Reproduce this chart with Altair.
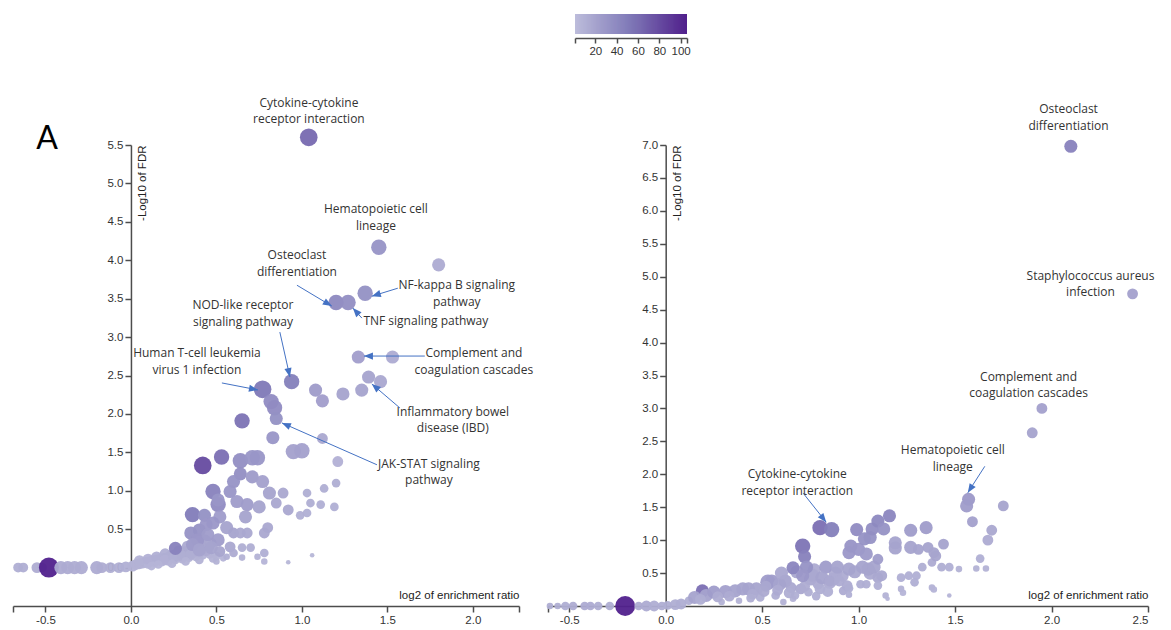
import math

import altair as alt
import pandas as pd

# ---------------------------------------------------------------------------
# Left panel: KEGG pathways, log2 enrichment ratio vs -log10 FDR.
# SET = gene-set size (colour), HITS = overlapping genes (circle area)
# ---------------------------------------------------------------------------
LEFT_X = [
    # pathways with no enrichment
    -0.66, -0.63, -0.55, -0.52, -0.48, -0.41, -0.37, -0.33, -0.29, -0.20, -0.17, -0.12, -0.07, -0.03,
    # low-significance band
    0.01, 0.03, 0.05, 0.07, 0.09, 0.11, 0.13, 0.15, 0.17, 0.19, 0.21, 0.23, 0.25, 0.27, 0.29, 0.31,
    0.33, 0.35, 0.37, 0.40, 0.42, 0.45,
    0.10, 0.14, 0.18, 0.22, 0.26, 0.30, 0.34, 0.38, 0.42, 0.46, 0.50, 0.54,
    0.20, 0.28, 0.33, 0.38, 0.43, 0.47,
    0.05, 0.10, 0.15, 0.20, 0.25, 0.30, 0.35, 0.40, 0.44, 0.12, 0.16, 0.24, 0.32, 0.40, 0.48,
    # enriched pathways
    1.04, 1.45, 1.80, 1.37, 1.20, 1.27, 1.33, 1.53, 1.39, 1.46, 1.35, 1.24, 1.08, 1.12, 0.94, 0.77,
    0.82, 0.84, 0.85, 0.65, 0.83, 1.12, 0.95, 1.00, 1.21, 0.42, 0.53, 0.64, 0.71, 0.74,
    0.64, 0.60, 0.71, 0.77, 0.81, 0.89, 0.48, 0.58, 1.03, 1.13, 1.20, 0.51, 0.68, 0.75, 0.85, 0.92,
    1.05, 1.11, 1.19, 0.36, 0.43, 0.52, 0.67, 0.99, 1.03, 0.51, 0.62,
    0.80, 0.78, 0.40, 0.44, 0.48, 0.35, 0.39, 0.45, 0.51, 0.56, 0.60, 0.64, 0.68, 0.36, 0.40, 0.47,
    0.52, 0.58, 0.60, 0.65, 0.70, 0.78, 0.26, 0.65, 0.74, 0.78, 0.92, 1.06, 0.56, 0.50,
]
LEFT_Y = [
    0, 0, 0, 0, 0, 0, 0, 0, 0, 0, 0, 0, 0, 0.01,
    0.02, 0.04, 0.05, 0.06, 0.07, 0.08, 0.09, 0.10, 0.11, 0.12, 0.13, 0.15, 0.16, 0.17, 0.18, 0.19,
    0.20, 0.22, 0.24, 0.25, 0.27, 0.28,
    0.04, 0.06, 0.07, 0.08, 0.10, 0.11, 0.13, 0.14, 0.16, 0.17, 0.15, 0.12,
    0.18, 0.22, 0.28, 0.33, 0.35, 0.32,
    0.09, 0.11, 0.14, 0.10, 0.13, 0.15, 0.17, 0.20, 0.22, 0.02, 0.04, 0.05, 0.08, 0.10, 0.12,
    5.60, 4.17, 3.94, 3.57, 3.45, 3.45, 2.74, 2.74, 2.48, 2.42, 2.31, 2.26, 2.31, 2.17, 2.42, 2.32,
    2.16, 2.08, 1.94, 1.91, 1.69, 1.68, 1.51, 1.52, 1.38, 1.33, 1.44, 1.39, 1.43, 1.43,
    1.22, 1.12, 1.18, 1.12, 0.97, 0.97, 0.99, 0.99, 0.97, 1.03, 1.10, 0.82, 0.82, 0.79, 0.84, 0.75,
    0.84, 0.82, 0.79, 0.69, 0.68, 0.66, 0.66, 0.68, 0.71, 0.88, 0.86,
    0.52, 0.45, 0.49, 0.56, 0.58, 0.45, 0.36, 0.43, 0.36, 0.52, 0.45, 0.45, 0.45, 0.30, 0.23, 0.26,
    0.21, 0.27, 0.19, 0.26, 0.26, 0.19, 0.25, 0.13, 0.14, 0.08, 0.07, 0.16, 0.14, 0.08,
]
LEFT_SET = [
    12, 12, 13, 12, 105, 14, 14, 13, 13, 14, 13, 12, 11, 11,
    9, 9, 9, 9, 9, 10, 10, 10, 10, 11, 11, 11, 12, 12, 12, 13,
    13, 14, 14, 15, 15, 16,
    7, 7, 7, 7, 8, 8, 8, 8, 8, 9, 8, 7,
    12, 13, 15, 18, 18, 16,
    9, 10, 11, 10, 11, 12, 12, 13, 14, 7, 7, 8, 8, 9, 9,
    62, 32, 14, 34, 40, 36, 24, 14, 20, 16, 20, 20, 26, 24, 48, 52,
    38, 38, 34, 56, 30, 16, 22, 22, 10, 80, 58, 36, 30, 30,
    36, 32, 26, 22, 20, 16, 45, 30, 12, 12, 12, 38, 25, 20, 16, 16,
    12, 11, 11, 50, 34, 25, 20, 11, 11, 30, 25,
    16, 16, 33, 29, 29, 33, 29, 25, 25, 20, 20, 16, 16, 25, 20, 20,
    19, 16, 14, 12, 12, 11, 45, 9, 9, 7, 6, 6, 11, 9,
]
LEFT_HITS = [
    9, 9, 11, 9, 37, 16, 16, 16, 16, 16, 11, 11, 11, 11,
    11, 11, 11, 11, 11, 11, 11, 11, 11, 11, 11, 11, 11, 11, 11, 16,
    16, 16, 16, 16, 16, 16,
    7, 7, 7, 7, 7, 7, 7, 7, 7, 7, 7, 4,
    11, 11, 11, 16, 16, 11,
    11, 11, 11, 11, 11, 11, 11, 11, 11, 7, 7, 7, 7, 7, 7,
    29, 22, 16, 22, 22, 22, 16, 16, 16, 16, 16, 16, 16, 16, 22, 29,
    22, 22, 16, 22, 16, 11, 22, 22, 11, 29, 22, 22, 22, 22,
    16, 16, 16, 16, 16, 11, 22, 16, 7, 7, 7, 22, 16, 16, 11, 11,
    7, 7, 7, 22, 16, 16, 16, 7, 7, 16, 16,
    11, 11, 16, 16, 16, 16, 16, 16, 16, 16, 11, 11, 11, 16, 16, 16,
    11, 11, 7, 7, 7, 7, 16, 4, 4, 4, 2, 2, 4, 4,
]

LEFT_LABELS = [
    "Cytokine-cytokine\nreceptor interaction",
    "Hematopoietic cell\nlineage",
    "Osteoclast\ndifferentiation",
    "NF-kappa B signaling\npathway",
    "TNF signaling pathway",
    "NOD-like receptor\nsignaling pathway",
    "Complement and\ncoagulation cascades",
    "Human T-cell leukemia\nvirus 1 infection",
    "Inflammatory bowel\ndisease (IBD)",
    "JAK-STAT signaling\npathway",
]
LEFT_LABEL_X = [1.041, 1.433, 0.971, 1.906, 1.725, 0.655, 2.006, 0.386, 1.883, 1.743]
LEFT_LABEL_Y = [6.117, 4.727, 4.130, 3.740, 3.273, 3.481, 2.857, 2.857, 2.091, 1.416]

# arrows: tail (X1, Y1) -> head (X2, Y2)
LEFT_ARROW_X1 = [0.971, 1.561, 1.351, 1.719, 1.573, 1.439, 0.871, 0.532]
LEFT_ARROW_Y1 = [3.675, 3.636, 3.247, 2.753, 2.078, 1.338, 3.065, 2.403]
LEFT_ARROW_X2 = [1.175, 1.409, 1.298, 1.363, 1.409, 0.883, 0.930, 0.743]
LEFT_ARROW_Y2 = [3.403, 3.532, 3.377, 2.753, 2.390, 1.883, 2.481, 2.312]

# ---------------------------------------------------------------------------
# Right panel
# ---------------------------------------------------------------------------
RIGHT_X = [
    -0.60, -0.56, -0.52, -0.48, -0.42, -0.39, -0.35, -0.29, -0.21, -0.14, -0.10, -0.06, -0.02, 0.01,
    0.05, 0.08, 0.12,
    0.19,
    0.15, 0.21, 0.25, 0.31, 0.36, 0.40, 0.43, 0.47, 0.53, 0.55, 0.59, 0.62, 0.65, 0.70, 0.75, 0.79,
    0.85, 0.87, 0.66, 0.61, 0.49, 0.57, 0.67, 0.74, 0.80, 0.38, 0.29,
    0.18, 0.27, 0.33, 0.45, 0.51, 0.58, 0.64, 0.72, 0.78, 0.84, 0.52, 0.44,
    0.60, 0.68, 0.77, 0.88, 0.98, 1.06, 0.92, 0.76,
    0.66, 0.71, 0.72, 0.73, 0.71, 0.83, 0.89, 0.95, 1.02, 1.05, 1.08, 1.10, 1.12, 0.81, 0.85, 0.92,
    0.94, 1.01, 1.04, 1.10, 1.14, 1.22, 1.22, 1.26, 1.30, 1.29, 1.38, 1.47, 1.15, 1.23, 1.39, 0.95,
    0.95, 0.90,
    0.80, 0.86,
    0.99, 0.96, 0.95, 1.00, 1.04, 1.03, 1.06, 1.07, 1.10, 1.13, 1.16, 1.10, 1.19, 1.19, 1.27, 1.27,
    1.35, 1.31, 1.36, 1.39, 1.44, 1.38, 1.33, 1.43, 1.47, 1.52, 1.40,
    1.57, 1.56, 1.59, 1.75, 1.69, 1.67, 1.63, 1.61, 1.66,
    1.90, 1.95, 2.10, 2.42,
]
RIGHT_Y = [
    0, 0, 0, 0, 0, 0, 0, 0, 0, 0, 0, 0, 0, 0.01,
    0.02, 0.03, 0.08,
    0.23,
    0.13, 0.16, 0.21, 0.22, 0.23, 0.26, 0.26, 0.26, 0.36, 0.38, 0.33, 0.38, 0.28, 0.26, 0.41, 0.33,
    0.36, 0.41, 0.11, 0.06, 0.13, 0.16, 0.16, 0.21, 0.26, 0.08, 0.06,
    0.10, 0.14, 0.15, 0.18, 0.22, 0.24, 0.20, 0.30, 0.15, 0.22, 0.30, 0.12,
    0.50, 0.52, 0.55, 0.50, 0.52, 0.50, 0.45, 0.47,
    0.58, 0.91, 0.75, 0.59, 0.46, 0.59, 0.59, 0.56, 0.59, 0.56, 0.59, 0.43, 0.46, 0.43, 0.38, 0.23,
    0.31, 0.33, 0.33, 0.31, 0.16, 0.26, 0.43, 0.46, 0.46, 0.36, 0.28, 0.16, 0.11, 0.20, 0.25, 0.27,
    0.17, 0.38,
    1.19, 1.16,
    1.16, 0.91, 0.81, 0.86, 0.79, 1.02, 1.04, 1.17, 1.29, 1.17, 1.37, 0.71, 0.96, 0.88, 1.15, 0.89,
    1.19, 0.86, 0.89, 0.81, 0.94, 0.66, 0.59, 0.59, 0.59, 0.56, 0.76,
    1.62, 1.52, 1.28, 1.52, 1.15, 1.00, 0.72, 0.57, 0.57,
    2.63, 3.00, 6.98, 4.74,
]
RIGHT_SET = [
    12, 12, 12, 13, 14, 14, 12, 12, 105, 14, 14, 12, 12, 12,
    12, 12, 12,
    58,
    20, 20, 25, 22, 20, 20, 20, 19, 25, 25, 20, 20, 16, 16, 16, 14,
    14, 14, 9, 9, 12, 12, 11, 12, 12, 9, 9,
    12, 13, 14, 14, 15, 14, 12, 13, 11, 11, 16, 12,
    16, 16, 15, 14, 16, 15, 14, 16,
    42, 55, 46, 33, 29, 25, 20, 20, 20, 19, 19, 16, 16, 20, 16, 14,
    14, 12, 12, 11, 9, 9, 11, 11, 11, 11, 9, 7, 7, 7, 7, 12,
    11, 14,
    58, 48,
    38, 31, 29, 29, 27, 33, 33, 36, 40, 33, 42, 25, 20, 20, 25, 20,
    25, 20, 20, 19, 20, 14, 12, 12, 11, 9, 19,
    28, 25, 22, 19, 16, 14, 11, 9, 9,
    20, 22, 45, 22,
]
RIGHT_HITS = [
    4, 4, 7, 7, 7, 7, 7, 7, 37, 7, 11, 11, 7, 7,
    11, 11, 7,
    16,
    16, 16, 16, 16, 16, 16, 16, 16, 22, 16, 16, 16, 11, 11, 16, 11,
    16, 16, 4, 4, 7, 7, 7, 7, 11, 4, 4,
    11, 11, 11, 11, 11, 11, 11, 11, 7, 11, 11, 7,
    16, 16, 16, 16, 16, 16, 11, 16,
    16, 22, 16, 16, 16, 16, 16, 16, 16, 16, 16, 11, 11, 16, 11, 7,
    11, 7, 7, 7, 4, 4, 7, 7, 7, 7, 4, 2, 2, 4, 4, 7,
    4, 11,
    22, 22,
    16, 16, 16, 16, 16, 16, 16, 16, 16, 16, 16, 11, 16, 16, 16, 16,
    16, 11, 11, 11, 11, 7, 7, 7, 7, 4, 11,
    16, 16, 11, 11, 11, 11, 7, 4, 4,
    11, 11, 16, 11,
]

RIGHT_LABELS = [
    "Osteoclast\ndifferentiation",
    "Staphylococcus aureus\ninfection",
    "Complement and\ncoagulation cascades",
    "Hematopoietic cell\nlineage",
    "Cytokine-cytokine\nreceptor interaction",
]
RIGHT_LABEL_X = [2.088, 2.202, 1.881, 1.488, 0.682]
RIGHT_LABEL_Y = [7.62, 5.09, 3.56, 2.44, 2.08]

RIGHT_ARROW_X1 = [0.713, 1.654]
RIGHT_ARROW_Y1 = [1.712, 2.121]
RIGHT_ARROW_X2 = [0.832, 1.566]
RIGHT_ARROW_Y2 = [1.273, 1.720]

# colour bar ticks
LEGEND_TICKS = [1, 20, 40, 60, 80, 100, 106]

# ---------------------------------------------------------------------------
# Layout constants
# ---------------------------------------------------------------------------
XMIN_L, XMAX_L, YMIN_L, YMAX_L = -0.69, 2.27, -0.5, 5.5
XMIN_R, XMAX_R, YMIN_R, YMAX_R = -0.61, 2.5, 0.0, 7.0
W_L, W_R, H = 506, 600, 461

BLUE = "#4472c4"
TEXT = "#333333"
LABEL_FONT = "Open Sans"
# arrowhead with its tip at the symbol origin, pointing up
ARROW_PATH = "M0,0L-0.8,2L0.8,2Z"

COLOR_SCALE = alt.Scale(domain=[1, 106], scheme=alt.SchemeParams(name="purples", extent=[0.25, 1.0]))
SIZE_SCALE = alt.Scale(domain=[0, 40], range=[0, 430])


def fmt_expr(hide):
    return f"{hide} ? '' : replace(format(datum.value, '.1f'), '\u2212', '-')"


def panel(px, py, pset, phits, labels, lx, ly, ax1, ay1, ax2, ay2,
          xmin, xmax, ymin, ymax, width, x_vals, y_vals, x_hide, annotate_a):
    xs = alt.Scale(domain=[xmin, xmax], nice=False, zero=False)
    ys = alt.Scale(domain=[ymin, ymax], nice=False, zero=False)
    kx = width / (xmax - xmin)
    ky = H / (ymax - ymin)

    x_axis = alt.Axis(
        values=x_vals, labelExpr=fmt_expr(x_hide), title="log2 of enrichment ratio",
        titleX=width, titleY=-11, titleAlign="right", titleBaseline="middle", titleAngle=0)
    y_axis = alt.Axis(
        values=y_vals, format=".1f", offset=-width * (0 - xmin) / (xmax - xmin),
        title="-Log10 of FDR", titleAngle=270, titleX=6, titleY=0,
        titleAlign="right", titleBaseline="top")

    pts = pd.DataFrame({"ratio": px, "fdr": py, "size": pset, "hits": phits})
    lab = pd.DataFrame({"lx": lx, "ly": ly, "text": labels})
    angles = [math.degrees(math.atan2((b - a) * kx, (d - c) * ky)) % 360
              for a, b, c, d in zip(ax1, ax2, ay1, ay2)]
    arr = pd.DataFrame({"x1": ax1, "y1": ay1, "x2": ax2, "y2": ay2, "ang": angles})

    points = alt.Chart(pts).mark_circle(opacity=0.95).encode(
        x=alt.X("ratio:Q", scale=xs, axis=x_axis),
        y=alt.Y("fdr:Q", scale=ys, axis=y_axis),
        color=alt.Color("size:Q", scale=COLOR_SCALE, legend=None),
        size=alt.Size("hits:Q", scale=SIZE_SCALE, legend=None),
    )
    rules = alt.Chart(arr).mark_rule(color=BLUE, strokeWidth=1).encode(
        x=alt.X("x1:Q", scale=xs, axis=x_axis), y=alt.Y("y1:Q", scale=ys, axis=y_axis),
        x2="x2:Q", y2="y2:Q",
    )
    heads = alt.Chart(arr).mark_point(shape=ARROW_PATH, filled=True, size=81, color=BLUE,
                                      opacity=1, strokeWidth=0).encode(
        x=alt.X("x2:Q", scale=xs, axis=x_axis), y=alt.Y("y2:Q", scale=ys, axis=y_axis),
        angle=alt.Angle("ang:Q", scale=None),
    )
    texts = alt.Chart(lab).mark_text(font=LABEL_FONT, fontSize=12, color=TEXT, align="center",
                                     baseline="top", lineBreak="\n", lineHeight=16.5).encode(
        x=alt.X("lx:Q", scale=xs, axis=x_axis), y=alt.Y("ly:Q", scale=ys, axis=y_axis),
        text="text:N",
    )
    layers = [points, rules, heads, texts]
    if annotate_a:
        layers.append(
            alt.Chart(pd.DataFrame({"t": ["A"]})).mark_text(
                font="Lato", fontSize=32, color="#000000", align="center", baseline="alphabetic"
            ).encode(text="t:N", x=alt.value(34), y=alt.value(4))
        )
    return alt.layer(*layers).properties(width=width, height=H)


left = panel(LEFT_X, LEFT_Y, LEFT_SET, LEFT_HITS, LEFT_LABELS, LEFT_LABEL_X, LEFT_LABEL_Y,
             LEFT_ARROW_X1, LEFT_ARROW_Y1, LEFT_ARROW_X2, LEFT_ARROW_Y2,
             XMIN_L, XMAX_L, YMIN_L, YMAX_L, W_L,
             [XMIN_L, -0.5, 0.0, 0.5, 1.0, 1.5, 2.0, XMAX_L],
             [0.0, 0.5, 1.0, 1.5, 2.0, 2.5, 3.0, 3.5, 4.0, 4.5, 5.0, 5.5],
             "datum.value < -0.6 || datum.value > 2.2", True)

right = panel(RIGHT_X, RIGHT_Y, RIGHT_SET, RIGHT_HITS, RIGHT_LABELS, RIGHT_LABEL_X, RIGHT_LABEL_Y,
              RIGHT_ARROW_X1, RIGHT_ARROW_Y1, RIGHT_ARROW_X2, RIGHT_ARROW_Y2,
              XMIN_R, XMAX_R, YMIN_R, YMAX_R, W_R,
              [XMIN_R, -0.5, 0.0, 0.5, 1.0, 1.5, 2.0, 2.5],
              [0.5, 1.0, 1.5, 2.0, 2.5, 3.0, 3.5, 4.0, 4.5, 5.0, 5.5, 6.0, 6.5, 7.0],
              "datum.value < -0.55", False)

# colour bar drawn from the shared colour scale (slightly overlapping strips)
bar = pd.DataFrame({"v": list(range(1, 106))})
bar["v_end"] = bar["v"] + 1.8
legend = alt.Chart(bar).mark_rect().encode(
    x=alt.X("v:Q", scale=alt.Scale(domain=[1, 106], range=[562, 674], nice=False, zero=False, clamp=True),
            axis=alt.Axis(values=LEGEND_TICKS, offset=4, tickSize=5, labelPadding=2, title=None,
                          labelExpr="datum.value == 1 || datum.value == 106 ? '' : datum.label")),
    x2="v_end:Q",
    color=alt.Color("v:Q", scale=COLOR_SCALE, legend=None),
).properties(width=674, height=20)

chart = alt.vconcat(
    legend,
    alt.hconcat(left, right, spacing=29, bounds="flush"),
    spacing=111, bounds="flush",
).properties(
    padding={"left": 12, "top": 14, "right": 0, "bottom": 0},
).configure_view(strokeWidth=0).configure_axis(
    grid=False,
    domainColor="#4d4d4d", domainWidth=1.5,
    tickColor="#4d4d4d", tickWidth=1.5, tickSize=6,
    labelFont="Liberation Sans", labelFontSize=11.5, labelColor=TEXT,
    titleFont="Liberation Sans", titleFontSize=11.5, titleFontWeight="normal", titleColor="#222222",
)

chart.save("out.html", embed_options={"renderer": "svg", "actions": False})
